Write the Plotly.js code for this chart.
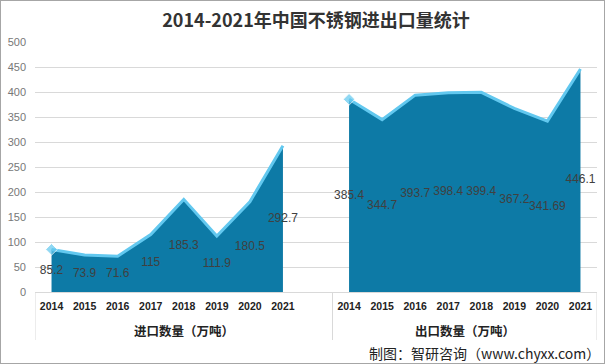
<!DOCTYPE html>
<html><head><meta charset="utf-8">
<script src="https://cdn.plot.ly/plotly-3.0.1.min.js"></script>
<style>
html,body{margin:0;padding:0;background:#fff;}
#wrap{position:relative;width:605px;height:364px;}
#chart{width:605px;height:364px;}
#frame{position:absolute;left:0;top:0;width:605px;height:364px;box-sizing:border-box;border:1px solid #a6a6a6;pointer-events:none;}
</style></head>
<body>
<div id="wrap"><div id="chart"></div><div id="frame"></div></div>
<script>
const years = ['2014','2015','2016','2017','2018','2019','2020','2021'];
const importValues = [85.2, 73.9, 71.6, 115, 185.3, 111.9, 180.5, 292.7];
const exportValues = [385.4, 344.7, 393.7, 398.4, 399.4, 367.2, 341.69, 446.1];
const groupLabels = ['进口数量（万吨）', '出口数量（万吨）'];
const titleText = '2014-2021年中国不锈钢进出口量统计';
const sourceText = '制图：智研咨询（www.chyxx.com）';

// category slots: import 0..7, blank slot 8, export 9..16
const importX = years.map((_, i) => i);
const exportX = years.map((_, i) => i + 9);

const fillColor = '#0d7aa6';
const lineColor = '#62c8ef';
const labelFont = {family: 'Liberation Sans, Arial, sans-serif', size: 12, color: '#404040'};

function area(x, y) {
  return {
    type: 'scatter', mode: 'lines+markers', x: x, y: y,
    fill: 'tozeroy', fillcolor: fillColor,
    line: {color: lineColor, width: 3},
    marker: {symbol: 'diamond', color: lineColor, size: y.map((_, i) => i === 0 ? 9 : 0)},
    hoverinfo: 'skip', showlegend: false
  };
}
function labels(x, y) {
  return {
    type: 'scatter', mode: 'text', x: x, y: y.map(v => v / 2),
    text: y.map(v => String(v)), textposition: 'middle center',
    textfont: labelFont, hoverinfo: 'skip', showlegend: false
  };
}

const data = [area(importX, importValues), area(exportX, exportValues),
              labels(importX, importValues), labels(exportX, exportValues)];

const sepY = -48 / 250;
const layout = {
  width: 605, height: 364,
  margin: {l: 35, r: 8, t: 42, b: 72},
  paper_bgcolor: '#fff', plot_bgcolor: '#fff',
  title: {text: titleText, x: 0.5, xref: 'paper', xanchor: 'center', y: 1 - 21/364, yref: 'container', yanchor: 'middle',
          font: {family: 'Noto Sans CJK SC, sans-serif', size: 18, color: '#333', weight: 'bold'}},
  xaxis: {
    range: [-0.5, 16.5], showgrid: false, zeroline: false, showline: false,
    tickvals: importX.concat(exportX), ticktext: years.concat(years),
    ticks: '', ticklabelstandoff: 6,
    tickfont: {family: 'Liberation Sans, Arial, sans-serif', size: 10.5, color: '#222', weight: 'bold'},
    fixedrange: true
  },
  yaxis: {
    range: [0, 500], tickvals: [0,50,100,150,200,250,300,350,400,450,500],
    showgrid: true, gridcolor: '#d9d9d9', gridwidth: 1, zeroline: true, zerolinecolor: '#d9d9d9', zerolinewidth: 1,
    showline: false, ticks: '', ticklabelstandoff: 8,
    tickfont: {family: 'Liberation Sans, Arial, sans-serif', size: 11, color: '#777'},
    fixedrange: true
  },
  shapes: [-0.5, 8.5, 16.5].map(xv => ({
    type: 'line', xref: 'x', yref: 'paper', x0: xv, x1: xv, y0: 0, y1: sepY,
    line: {color: '#d9d9d9', width: 1}
  })),
  annotations: [
    {text: groupLabels[0], x: 4, xref: 'x', y: -38/250, yref: 'paper', yanchor: 'middle', showarrow: false,
     font: {family: 'Noto Sans CJK SC, sans-serif', size: 12.5, color: '#222', weight: 'bold'}},
    {text: groupLabels[1], x: 12.5, xref: 'x', y: -38/250, yref: 'paper', yanchor: 'middle', showarrow: false,
     font: {family: 'Noto Sans CJK SC, sans-serif', size: 12.5, color: '#222', weight: 'bold'}},
    {text: sourceText, x: (602 - 35) / 562, xref: 'paper', xanchor: 'right', y: -61/250, yref: 'paper', yanchor: 'middle', showarrow: false,
     font: {family: 'Noto Sans CJK SC, sans-serif', size: 14, color: '#222'}}
  ]
};
Plotly.newPlot('chart', data, layout, {displayModeBar: false, staticPlot: true});
</script>
</body></html>
